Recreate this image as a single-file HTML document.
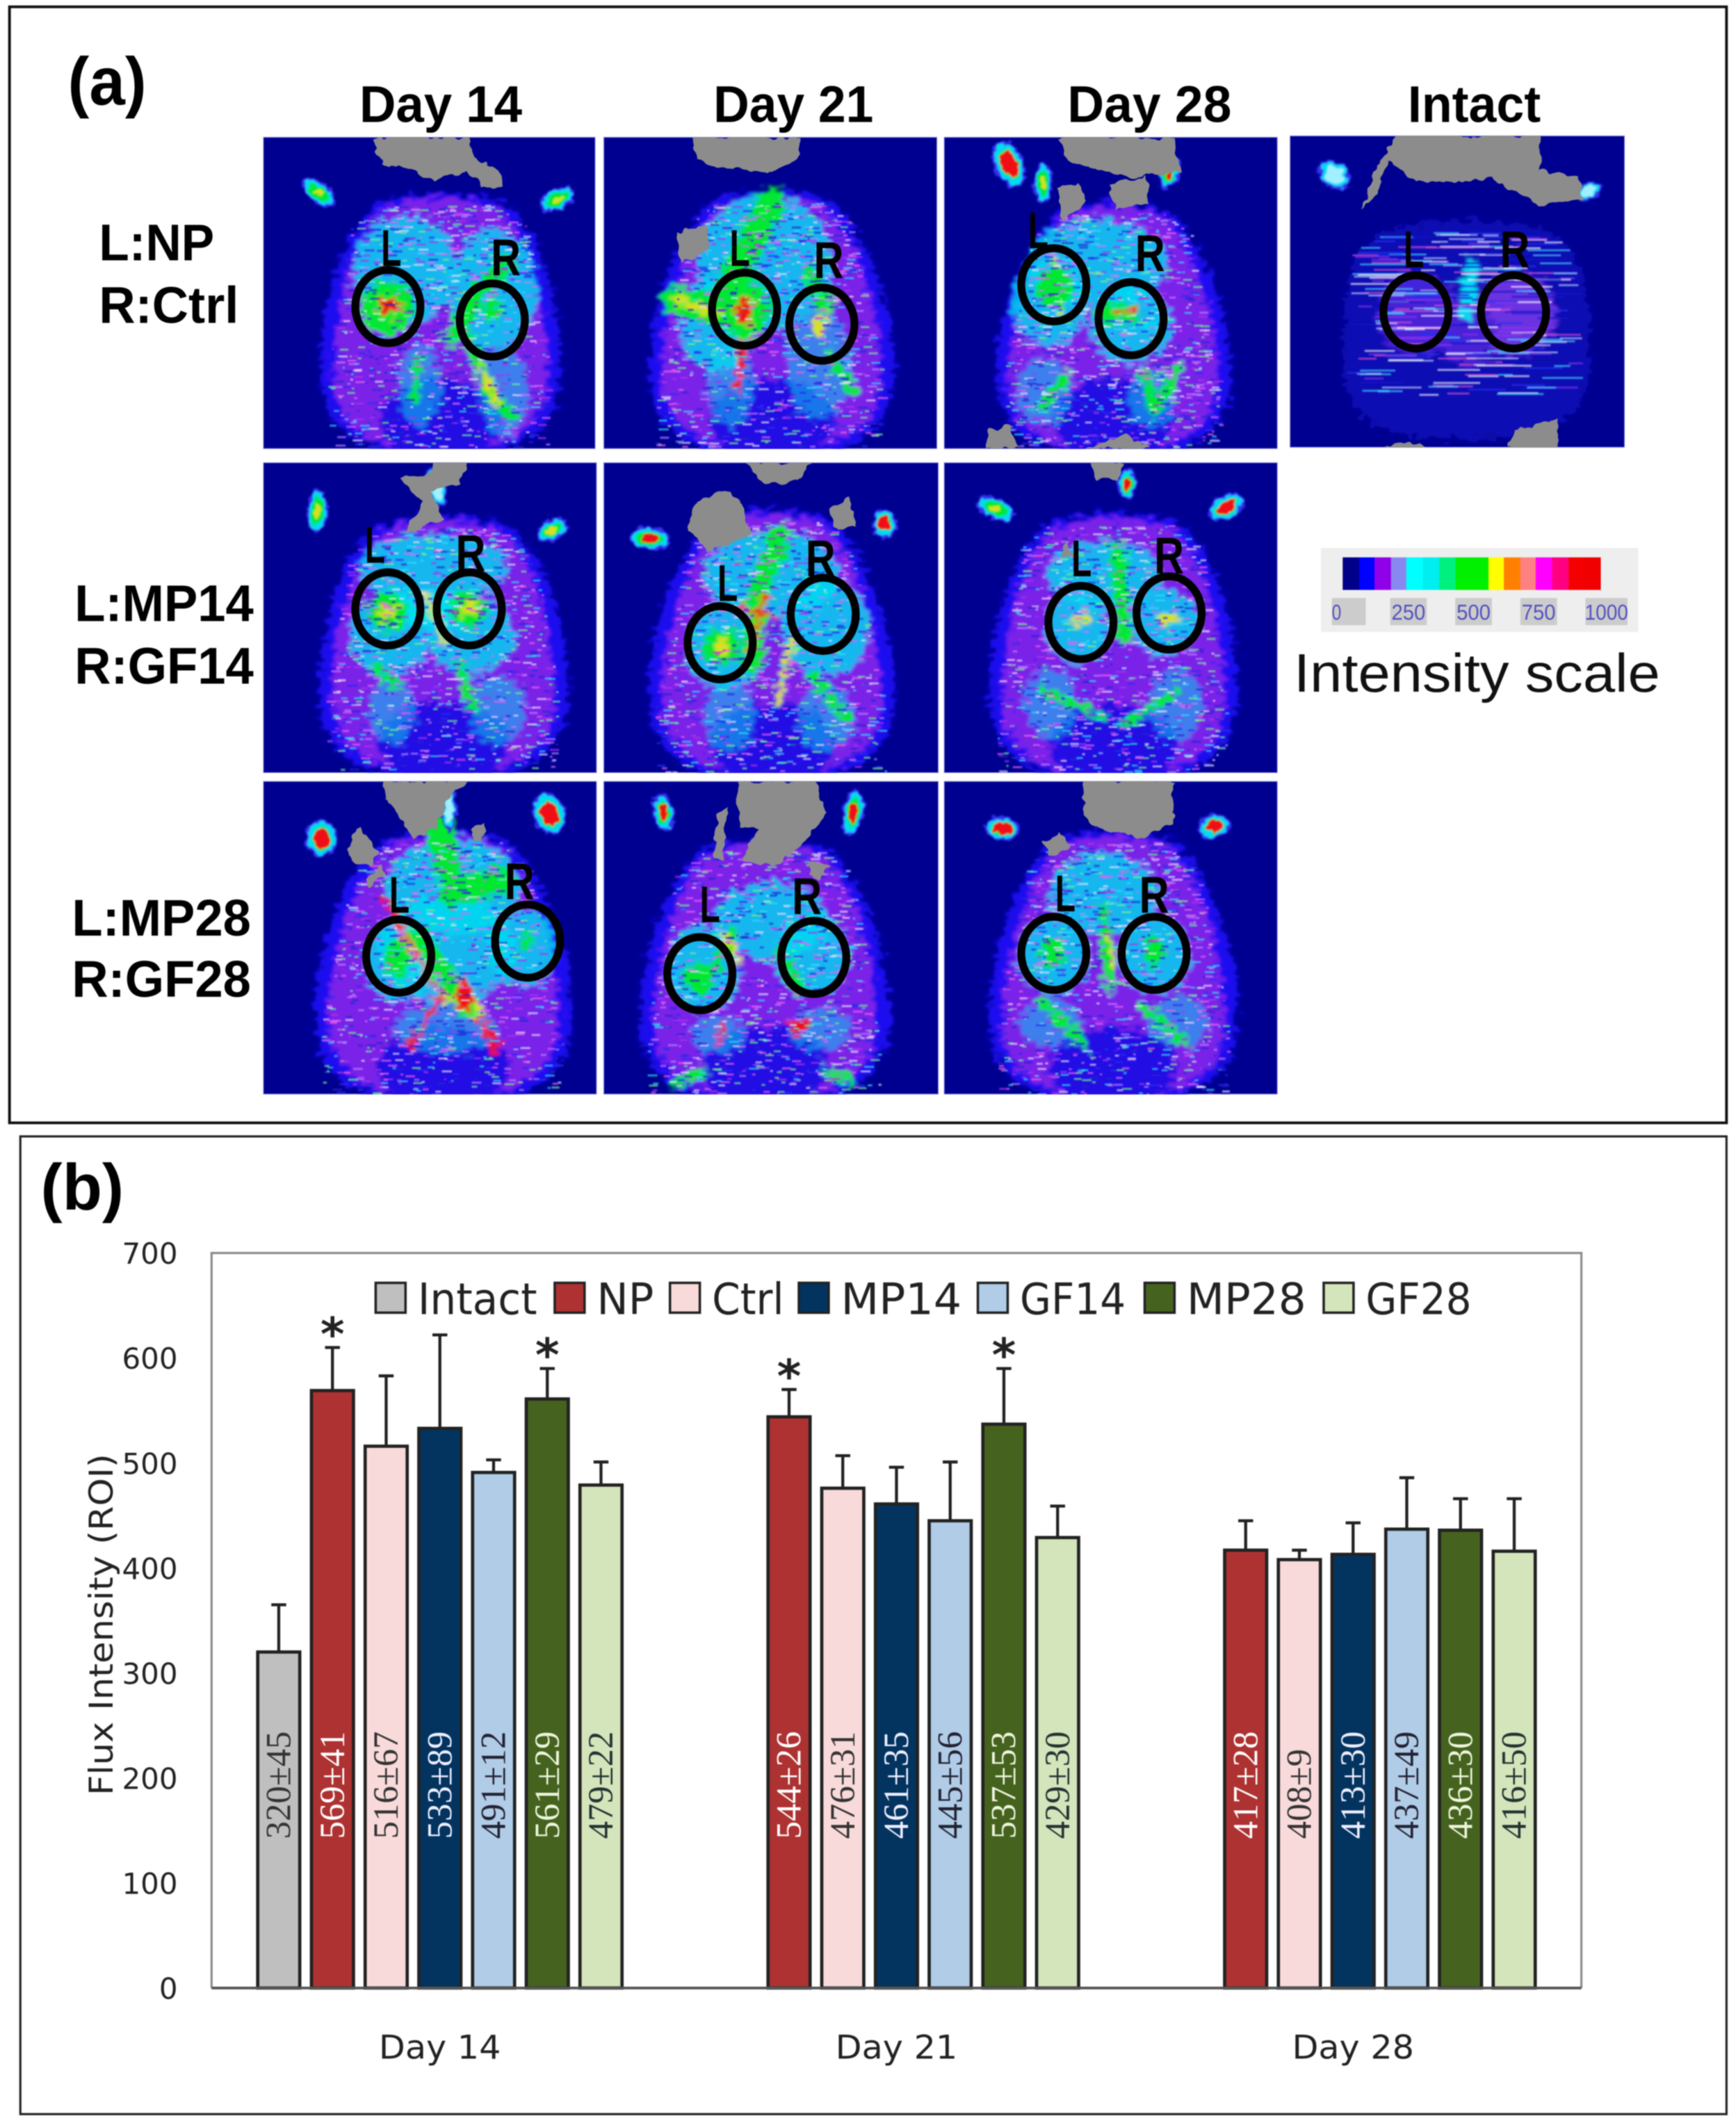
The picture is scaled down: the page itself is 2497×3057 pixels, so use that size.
<!DOCTYPE html>
<html lang="en">
<head>
<meta charset="utf-8">
<title>Flux intensity figure</title>
<style>
html,body{margin:0;padding:0;background:#fff;width:2497px;height:3057px;overflow:hidden}
svg{display:block;filter:blur(0.7px)}
.b{font-family:"Liberation Sans",sans-serif;font-weight:bold;fill:#000}
.d{font-family:"DejaVu Sans","Liberation Sans",sans-serif;fill:#333}
.s{font-family:"Liberation Serif",serif}
</style>
</head>
<body>
<svg id="fig" xmlns="http://www.w3.org/2000/svg" width="2497" height="3057" viewBox="1 1 1280 1567">
<defs>
<filter id="rough" x="-10%" y="-10%" width="120%" height="120%">
<feTurbulence type="fractalNoise" baseFrequency="0.13 0.3" numOctaves="3" seed="4" result="n"/>
<feDisplacementMap in="SourceGraphic" in2="n" scale="17" xChannelSelector="R" yChannelSelector="G" result="d"/>
<feGaussianBlur in="d" stdDeviation="1.2"/>
</filter>
<filter id="rough2" x="-30%" y="-30%" width="160%" height="160%">
<feTurbulence type="fractalNoise" baseFrequency="0.2" numOctaves="2" seed="7" result="n"/>
<feDisplacementMap in="SourceGraphic" in2="n" scale="6" xChannelSelector="R" yChannelSelector="G" result="d"/>
<feGaussianBlur in="d" stdDeviation="0.7"/>
</filter>
<filter id="soft"><feGaussianBlur stdDeviation="0.4"/></filter>
<filter id="edge" x="-5%" y="-5%" width="110%" height="110%">
<feTurbulence type="fractalNoise" baseFrequency="0.12" numOctaves="2" seed="9" result="n"/>
<feDisplacementMap in="SourceGraphic" in2="n" scale="7" xChannelSelector="R" yChannelSelector="G"/>
</filter>
</defs>

<rect x="8" y="6" width="1266" height="823" fill="#fff" stroke="#111" stroke-width="2"/>
<rect x="16" y="839" width="1258" height="721" fill="#fff" stroke="#222" stroke-width="1.6"/>

<text class="b" x="51" y="78" font-size="50" textLength="58" lengthAdjust="spacingAndGlyphs">(a)</text>
<text class="b" x="266" y="91" font-size="38" textLength="120" lengthAdjust="spacingAndGlyphs">Day 14</text>
<text class="b" x="527" y="91" font-size="38" textLength="118" lengthAdjust="spacingAndGlyphs">Day 21</text>
<text class="b" x="788" y="91" font-size="38" textLength="121" lengthAdjust="spacingAndGlyphs">Day 28</text>
<text class="b" x="1039" y="91" font-size="38" textLength="98" lengthAdjust="spacingAndGlyphs">Intact</text>

<text class="b" x="74" y="193" font-size="38" textLength="85" lengthAdjust="spacingAndGlyphs">L:NP</text>
<text class="b" x="74" y="239" font-size="38" textLength="103" lengthAdjust="spacingAndGlyphs">R:Ctrl</text>
<text class="b" x="56" y="459" font-size="38" textLength="132" lengthAdjust="spacingAndGlyphs">L:MP14</text>
<text class="b" x="56" y="505" font-size="38" textLength="132" lengthAdjust="spacingAndGlyphs">R:GF14</text>
<text class="b" x="54" y="691" font-size="38" textLength="132" lengthAdjust="spacingAndGlyphs">L:MP28</text>
<text class="b" x="54" y="736" font-size="38" textLength="132" lengthAdjust="spacingAndGlyphs">R:GF28</text>

<g id="panels"></g>

<g id="scale">
<rect x="975" y="405" width="234" height="62" fill="#eeeeee"/>
<text x="955" y="511" font-size="40" textLength="270" lengthAdjust="spacingAndGlyphs" font-family="Liberation Sans, sans-serif" fill="#111">Intensity scale</text>
</g>

<text class="b" x="31" y="893" font-size="48">(b)</text>
<g id="chart"></g>
</svg>

<script>
/* ---------- bar chart data ---------- */
const categories = ['Day 14', 'Day 21', 'Day 28'];
const seriesNames = ['Intact', 'NP', 'Ctrl', 'MP14', 'GF14', 'MP28', 'GF28'];
const intactValues = [320, null, null];
const npValues = [569, 544, 417];
const ctrlValues = [516, 476, 408];
const mp14Values = [533, 461, 413];
const gf14Values = [491, 445, 437];
const mp28Values = [561, 537, 436];
const gf28Values = [479, 429, 416];
const intactErrors = [45, null, null];
const npErrors = [41, 26, 28];
const ctrlErrors = [67, 31, 9];
const mp14Errors = [89, 35, 30];
const gf14Errors = [12, 56, 49];
const mp28Errors = [29, 53, 30];
const gf28Errors = [22, 30, 50];
const npSignificant = [true, true, false];
const mp28Significant = [true, true, false];
const yTickLabels = [0, 100, 200, 300, 400, 500, 600, 700];
const yAxisMax = 700;

const NS = 'http://www.w3.org/2000/svg';
function el(tag, attrs, parent, text) {
  const n = document.createElementNS(NS, tag);
  for (const k in attrs) n.setAttribute(k, attrs[k]);
  if (text !== undefined) n.textContent = text;
  if (parent) parent.appendChild(n);
  return n;
}

/* ---------- chart ---------- */
(function () {
  const g = document.getElementById('chart');
  const allValues = [intactValues, npValues, ctrlValues, mp14Values, gf14Values, mp28Values, gf28Values];
  const allErrors = [intactErrors, npErrors, ctrlErrors, mp14Errors, gf14Errors, mp28Errors, gf28Errors];
  const allSig = [null, npSignificant, null, null, null, mp28Significant, null];
  const fills = ['#bfbfbf', '#ae3232', '#f9dada', '#03345f', '#b0cce6', '#45631f', '#d4e4bb'];
  const inks = ['#333', '#fff', '#333', '#eef', '#223', '#eef5dd', '#233'];
  const left = 157, right = 1167, top = 925, bottom = 1467;
  const y = v => bottom - (v / yAxisMax) * (bottom - top);
  const catW = (right - left) / categories.length;
  const slot = 39.6, barW = 31;
  const x = (c, s) => left + catW * (c + .5) + (s - 3) * slot;

  const frame = el('path', {d: `M${left} ${bottom}V${top}H${right}V${bottom}`, fill: 'none', stroke: '#8a8a8a', 'stroke-width': 1.6}, g);
  
  

  yTickLabels.forEach(t => {
    const lab = el('text', {class: 'd', x: 132, y: y(t) + 8, 'font-size': 21.5, 'text-anchor': 'end', style: 'fill:#222'}, g, t);
    
    
  });

  const yt = el('text', {class: 'd', transform: 'translate(84 1199) rotate(-90)', 'font-size': 24, 'text-anchor': 'middle', textLength: 252, lengthAdjust: 'spacingAndGlyphs', style: 'fill:#222'}, g, 'Flux Intensity (ROI)');
  
  

  categories.forEach((cat, c) => {
    const lab = el('text', {class: 'd', x: left + catW * (c + .5), y: 1519, 'font-size': 24, 'text-anchor': 'middle', textLength: 90, lengthAdjust: 'spacingAndGlyphs', style: 'fill:#222'}, g, cat);
    
    
    seriesNames.forEach((name, s) => {
      const v = allValues[s][c], e = allErrors[s][c];
      if (v === null) return;
      const cx = x(c, s);
      const err = el('path', {d: `M${cx} ${y(v)}V${y(v + e)}M${cx - 5.5} ${y(v + e)}H${cx + 5.5}`, fill: 'none', stroke: '#222', 'stroke-width': 2.2}, g);
      
      
      const bar = el('rect', {x: cx - barW / 2, y: y(v), width: barW, height: bottom - y(v), fill: fills[s], stroke: '#222', 'stroke-width': 2.4}, g);
      
      
      const lb = el('text', {class: 's', transform: `translate(${cx + 8.5} 1357) rotate(-90)`, 'font-size': 26, fill: inks[s]}, g, v + '±' + e);
      
      
      if (allSig[s] && allSig[s][c]) {
        const st = el('text', {class: 'd', x: cx, y: y(v + e) + 2, 'font-size': 34, 'font-weight': 'bold', 'text-anchor': 'middle', style: 'fill:#222'}, g, '*');
        
        
      }
    });
  });

  const axis = el('line', {x1: left, x2: right, y1: bottom, y2: bottom, stroke: '#555', 'stroke-width': 2}, g);
  
  

  const legendSwatchX = [278, 410, 495, 590, 722, 845, 977];
  const legendTextW = [88, 42, 53, 89, 78, 88, 78];
  seriesNames.forEach((name, s) => {
    const sw = el('rect', {x: legendSwatchX[s], y: 947, width: 22, height: 22, fill: fills[s], stroke: '#222', 'stroke-width': 1.8}, g);
    
    
    const t = el('text', {class: 'd', x: legendSwatchX[s] + 31, y: 970, 'font-size': 32, textLength: legendTextW[s], lengthAdjust: 'spacingAndGlyphs', style: 'fill:#222'}, g, name);
    
    
  });
})();

/* ---------- intensity scale ---------- */
const scaleColors = ['#000088', '#0000ff', '#9000e8', '#8888f0', '#00ffff', '#00eef0', '#00f080', '#00f000', '#00f000', '#ffff00', '#ff8000', '#ff8080', '#ff00ff', '#ff0080', '#f40000', '#f00000'];
const scaleWidths = [30, 28, 30, 28, 30, 30, 30, 30, 30, 28, 30, 28, 30, 30, 30, 28];
const scaleTicks = ['0', '250', '500', '750', '1000'];
(function () {
  const g = document.getElementById('scale');
  const total = scaleWidths.reduce((a, b) => a + b, 0);
  let cx = 991;
  scaleColors.forEach((c, i) => {
    const w = scaleWidths[i] / total * 190;
    const seg = el('rect', {x: cx, y: 412, width: w + .3, height: 24, fill: c}, g);
    
    
    cx += w;
  });
  const tickX = [983, 1026, 1074, 1122, 1170];
  const tickW = [25, 27, 27, 27, 31];
  scaleTicks.forEach((t, i) => {
    const r = el('rect', {x: tickX[i], y: 442, width: tickW[i], height: 20, fill: '#cccccc'}, g);
    
    
    const lb = el('text', {x: i === 0 ? tickX[i] : tickX[i] + tickW[i] / 2, y: 458, 'font-size': 16, fill: '#5252c0', 'font-family': 'Liberation Sans, sans-serif', 'text-anchor': i === 0 ? 'start' : 'middle', textLength: [7, 25, 25, 25, 32][i], lengthAdjust: 'spacingAndGlyphs'}, g, t);
    
    
  });
})();

/* ---------- thermal images (illustrative raster stand-ins) ---------- */
const G = '#00e832', C = '#00dcf0', R = '#f01018', Y = '#d8e020', P = '#d040f0';
const imagePanels = [
 {id: 'np-ctrl-day-14', x: 195, y: 102, w: 245, h: 230, body: [326, 152, 330, 63, 82],
  grey: ['M275 102L345 102L352 118L368 126L372 140L360 140L345 128L320 134L305 126L282 122Z'],
  ears: [[236, 143, 12, 6, .3, 40], [412, 148, 12, 6, .4, -25]],
  cyan: [[300, 200, 38, 40], [365, 215, 32, 45], [310, 285, 20, 30], [372, 290, 22, 32]],
  stk: [[[335, 250, 355, 215, 375, 195], G, 12], [[347, 250, 362, 290, 378, 308], G, 9], [[355, 272, 368, 298], Y, 5], [[310, 265, 306, 295], G, 7]],
  spot: [[287, 228, 20, 20, G], [287, 227, 9, 7, R], [364, 230, 7, 9, G]],
  cir: [[287, 227], [364, 237]], L: [289, 183], R: [374, 190]},
 {id: 'np-ctrl-day-21', x: 446, y: 102, w: 246, h: 230, body: [570, 150, 330, 58, 84],
  grey: ['M510 102L590 102L590 118L570 128L530 124L515 118Z', 'M500 172L522 168L524 186L504 194Z'],
  ears: [],
  cyan: [[565, 195, 50, 50], [530, 240, 28, 35], [605, 270, 30, 40], [540, 285, 22, 30]],
  stk: [[[570, 150, 550, 190, 530, 232, 500, 222], G, 22], [[600, 205, 610, 225], G, 14], [[554, 215, 550, 250, 544, 288], R, 6], [[500, 222, 530, 232], Y, 6], [[612, 262, 630, 290], G, 8]],
  spot: [[550, 228, 20, 22, G], [550, 230, 6, 10, R], [606, 240, 6, 8, Y]],
  cir: [[550, 229], [607, 240]], L: [546, 183], R: [612, 192]},
 {id: 'np-ctrl-day-28', x: 697, y: 102, w: 246, h: 230, body: [822, 158, 330, 55, 80],
  grey: ['M782 102L868 102L870 128L838 132L815 128L790 120Z', 'M818 136L846 132L848 152L824 156Z', 'M780 140L796 136L802 150L784 164Z', 'M728 332L730 318L745 314L752 332Z', 'M800 332L830 322L850 332Z'],
  ears: [[745, 122, 9, 16, 1, -25], [770, 136, 5, 13, .3, 0], [864, 128, 5, 11, .7, 20]],
  cyan: [[810, 195, 52, 32], [775, 225, 28, 30], [835, 240, 30, 28], [770, 290, 25, 25], [850, 295, 22, 22]],
  stk: [[[778, 192, 782, 232], Y, 5], [[788, 278, 768, 302], G, 7], [[845, 275, 852, 305, 870, 272], G, 8], [[815, 232, 835, 232], G, 14], [[826, 232, 842, 228], R, 4]],
  spot: [[779, 212, 14, 16, G], [850, 240, 8, 5, C]],
  cir: [[778, 211], [835, 236]], L: [766, 170], R: [849, 187]},
 {id: 'intact', x: 952, y: 101, w: 247, h: 230, body: [1082, 172, 318, 80, 84], sparse: true,
  grey: ['M1030 101L1138 101L1136 126L1165 132L1168 148L1135 152L1100 132L1085 135L1045 135L1025 120L1018 140L1005 156L1012 132Z', 'M1112 332L1118 318L1150 310L1150 332Z', 'M1010 332L1040 326L1060 332Z'],
  ears: [[985, 130, 11, 8, 0, 35], [1172, 142, 8, 5, 0, -20]],
  cyan: [],
  stk: [[[1086, 195, 1082, 235], C, 9]],
  spot: [],
  cir: [[1045, 231], [1117, 231]], L: [1043, 184], R: [1118, 184]},

 {id: 'mp14-gf14-day-14', x: 195, y: 342, w: 246, h: 229, body: [328, 390, 568, 65, 85],
  grey: ['M300 395L312 372L296 354L318 350L320 342L345 342L340 358L320 362L328 385Z'],
  ears: [[235, 378, 6, 14, .5, 5], [408, 392, 10, 6, .6, -30], [322, 360, 5, 14, 0, -20]],
  cyan: [[320, 420, 55, 25], [288, 470, 30, 28], [348, 470, 32, 28], [290, 525, 22, 25], [368, 525, 25, 25]],
  stk: [[[287, 450, 347, 450], C, 26], [[315, 440, 330, 475], Y, 4], [[340, 490, 350, 525], G, 7], [[280, 495, 295, 510], G, 7]],
  spot: [[287, 452, 14, 14, G], [347, 450, 14, 13, G], [287, 452, 6, 6, Y], [347, 450, 7, 5, Y]],
  cir: [[287, 450], [347, 450]], L: [277, 402], R: [348, 408]},
 {id: 'mp14-gf14-day-21', x: 446, y: 342, w: 247, h: 229, body: [570, 385, 570, 58, 84],
  grey: ['M515 372L535 362L548 372L555 395L525 408L508 392Z', 'M550 342L600 342L590 356L565 358Z', 'M612 375L628 368L632 388L618 392Z'],
  ears: [[480, 398, 13, 7, .7, 5], [653, 387, 7, 9, 1, -20]],
  cyan: [[570, 425, 50, 32], [535, 480, 28, 30], [610, 465, 32, 35], [540, 530, 24, 25], [610, 530, 26, 25]],
  stk: [[[575, 395, 560, 440, 555, 490], G, 16], [[565, 440, 555, 480], R, 4], [[545, 450, 575, 455], R, 3], [[585, 470, 575, 520], Y, 4], [[600, 500, 625, 530], G, 7]],
  spot: [[575, 405, 7, 12, G], [533, 478, 14, 14, G], [533, 478, 6, 6, Y]],
  cir: [[532, 475], [608, 454]], L: [537, 430], R: [606, 412]},
 {id: 'mp14-gf14-day-28', x: 697, y: 342, w: 246, h: 229, body: [822, 388, 570, 65, 85],
  grey: ['M805 342L830 342L825 354L810 356Z', 'M783 412L788 400L792 412Z'],
  ears: [[735, 376, 13, 6, .3, 25], [905, 375, 12, 7, 1, -30], [832, 358, 5, 10, .7, 0]],
  cyan: [[815, 425, 42, 25], [860, 460, 25, 24], [795, 465, 24, 24], [775, 520, 24, 26], [868, 520, 24, 26]],
  stk: [[[825, 405, 830, 470], G, 11], [[770, 510, 815, 530], G, 6], [[870, 510, 830, 535], G, 6]],
  spot: [[798, 458, 8, 4, Y], [862, 458, 8, 4, Y]],
  cir: [[798, 460], [863, 453]], L: [798, 412], R: [863, 410]},

 {id: 'mp28-gf28-day-14', x: 195, y: 577, w: 246, h: 231, body: [328, 622, 808, 62, 88],
  grey: ['M284 577L345 577L330 592L322 612L305 620L292 595L284 590Z', 'M258 622L266 612L280 628L275 640L260 636Z', 'M270 650L282 638L284 645L272 656Z', 'M348 612L358 608L358 622L350 622Z'],
  ears: [[238, 619, 10, 12, 1, 0], [406, 601, 10, 14, 1, -20], [332, 598, 4, 14, .2, 0]],
  cyan: [[335, 655, 50, 35], [330, 700, 50, 40], [295, 710, 24, 30], [385, 700, 26, 28], [330, 760, 48, 18]],
  stk: [[[325, 610, 335, 660, 370, 650], G, 20], [[285, 665, 322, 730], R, 4], [[335, 720, 305, 770], R, 4], [[335, 720, 365, 770], R, 5], [[335, 735, 350, 745], Y, 14], [[310, 690, 345, 745], G, 14]],
  spot: [[390, 695, 5, 6, G], [295, 707, 10, 14, G], [343, 735, 6, 12, R], [304, 773, 4, 5, R], [366, 772, 4, 6, R]],
  cir: [[295, 706], [390, 695]], L: [295, 660], R: [384, 650]},
 {id: 'mp28-gf28-day-21', x: 446, y: 577, w: 247, h: 231, body: [565, 628, 808, 62, 85],
  grey: ['M545 577L602 577L610 600L595 622L570 640L548 635L560 612L545 610Z', 'M530 600L538 598L534 635L526 636Z', 'M598 635L612 640L606 650L598 648Z'],
  ears: [[490, 600, 6, 12, .8, -10], [630, 600, 6, 15, .7, 10]],
  cyan: [[570, 680, 42, 28], [520, 715, 26, 32], [600, 705, 28, 30], [530, 765, 24, 14], [605, 760, 28, 16]],
  stk: [[[540, 690, 520, 730], G, 9], [[575, 700, 590, 730], G, 9], [[535, 690, 545, 710], Y, 5], [[595, 755, 590, 760], R, 7], [[535, 755, 530, 770], R, 4], [[520, 790, 500, 800], G, 6], [[610, 790, 630, 800], G, 6]],
  spot: [[587, 757, 9, 3, R], [516, 722, 12, 12, G]],
  cir: [[517, 719], [601, 707]], L: [524, 667], R: [596, 661]},
 {id: 'mp28-gf28-day-28', x: 697, y: 577, w: 246, h: 231, body: [822, 622, 808, 60, 85],
  grey: ['M800 577L866 577L866 610L840 618L810 612L800 600Z', 'M770 622L782 615L790 625L775 632Z'],
  ears: [[740, 612, 11, 7, 1, 10], [896, 610, 10, 7, 1, -15]],
  cyan: [[815, 660, 40, 30], [778, 706, 26, 28], [852, 706, 26, 28], [775, 755, 28, 18], [870, 755, 28, 18]],
  stk: [[[815, 672, 820, 730], G, 8], [[770, 740, 800, 770], G, 8], [[845, 745, 875, 770], G, 8], [[818, 695, 822, 712], Y, 4]],
  spot: [[778, 704, 9, 12, G], [852, 702, 8, 12, G]],
  cir: [[778, 704], [852, 704]], L: [786, 659], R: [852, 660]}
];

(function () {
  const root = document.getElementById('panels');
  let seed = 12345;
  const rnd = () => (seed = (seed * 1664525 + 1013904223) % 4294967296) / 4294967296;
  const bodyPath = (b, k, dy) => {
    const [cx, t0, bot, wt0, wb0] = b;
    const t = t0 - dy, h = bot - t0, wt = wt0 * k, wb = wb0 * k, bb = bot + dy;
    return `M${cx - wt * .72} ${t + 4}C${cx - wt * .3} ${t - 8} ${cx + wt * .3} ${t - 8} ${cx + wt * .72} ${t + 4}` +
      `C${cx + wt * 1.1} ${t + h * .16} ${cx + wb * .98} ${t + h * .42} ${cx + wb} ${t + h * .68}` +
      `C${cx + wb * 1.02} ${bb - h * .1} ${cx + wb * .72} ${bb + 4} ${cx} ${bb + 3}` +
      `C${cx - wb * .72} ${bb + 4} ${cx - wb * 1.02} ${bb - h * .1} ${cx - wb} ${t + h * .68}` +
      `C${cx - wb * .98} ${t + h * .42} ${cx - wt * 1.1} ${t + h * .16} ${cx - wt * .72} ${t + 4}Z`;
  };
  const halfW = (b, yy) => {
    const f = Math.max(0, Math.min(1, (yy - b[1]) / (b[2] - b[1])));
    const s = Math.min(1, .72 + f * 3);
    return (b[3] + (b[4] - b[3]) * Math.min(1, f * 1.4)) * s;
  };
  imagePanels.forEach((p, idx) => {
    const clipId = 'clip' + idx;
    const cp = el('clipPath', {id: clipId}, root);
    el('rect', {x: p.x, y: p.y, width: p.w, height: p.h}, cp);
    const g = el('g', {'clip-path': `url(#${clipId})`}, root);
    
    
    const bg = el('rect', {x: p.x, y: p.y, width: p.w, height: p.h, fill: '#000090', stroke: '#8888e0', 'stroke-width': 1}, g);
    
    

    const heat = el('g', {filter: 'url(#rough)'}, g);
    
    
    el('path', {d: bodyPath(p.body, 1.08, 4), fill: p.sparse ? '#1010b4' : '#1a10f0'}, heat);
    if (!p.sparse) {
      el('path', {d: bodyPath(p.body, .96, 0), fill: '#7a22e8'}, heat);
      el('ellipse', {cx: p.body[0], cy: p.body[2] - 20, rx: p.body[4] * .55, ry: 30, fill: '#2410e4'}, heat);
    } else {
      el('ellipse', {cx: p.body[0] - 36, cy: 232, rx: 30, ry: 30, fill: '#4a20d8'}, heat);
      el('ellipse', {cx: p.body[0] + 36, cy: 232, rx: 30, ry: 30, fill: '#6a30e0'}, heat);
      el('ellipse', {cx: p.body[0], cy: 245, rx: 20, ry: 25, fill: '#4a20d8'}, heat);
    }
    const lowerLimit = p.body[1] + (p.body[2] - p.body[1]) * .62;
    p.cyan.forEach(c => {
      const lower = c[1] > lowerLimit;
      el('ellipse', {cx: c[0], cy: c[1], rx: lower ? c[2] * .8 : c[2], ry: c[3], fill: C, opacity: lower ? .5 : .8}, heat);
    });
    p.stk.forEach(s => {
      const pts = s[0];
      let d = 'M' + pts[0] + ' ' + pts[1];
      for (let i = 2; i < pts.length; i += 2) d += 'L' + pts[i] + ' ' + pts[i + 1];
      el('path', {d: d, fill: 'none', stroke: s[1], 'stroke-width': s[2], 'stroke-linecap': 'round', 'stroke-linejoin': 'round'}, heat);
    });
    p.spot.forEach(s => el('ellipse', {cx: s[0], cy: s[1], rx: s[2], ry: s[3], fill: s[4]}, heat));

    // horizontal scan-line speckle
    const tex = el('g', {filter: 'url(#soft)'}, g);
    
    
    const cols = p.sparse ? ['#c8d8ff', '#40e0ff', '#e050d0', '#2030f0', '#1818c8', '#ffffff', '#9030f0'] : ['#e8e0ff', '#c080ff', '#30d8f8', '#f060f0', '#2828f0', '#70f090', '#b030f0', '#2020d0'];
    const count = p.sparse ? 230 : 1000;
    for (let i = 0; i < count; i++) {
      const yy = p.body[1] + rnd() * (p.body[2] - p.body[1]) * (p.sparse ? .82 : 1);
      const hw = halfW(p.body, yy) * (p.sparse ? 1.05 : 1.02);
      const len = p.sparse ? 8 + rnd() * 34 : 1.5 + rnd() * 6;
      const xx = p.body[0] - hw + rnd() * Math.max(1, 2 * hw - len);
      el('rect', {x: xx.toFixed(1), y: yy.toFixed(1), width: len.toFixed(1), height: 1.5, fill: cols[Math.floor(rnd() * cols.length)], opacity: p.sparse ? .6 : .68}, tex);
    }

    p.ears.forEach(e => {
      const [cx, cy, rx, ry, h, rot] = e;
      const ear = el('g', {transform: `rotate(${rot} ${cx} ${cy})`, filter: 'url(#rough2)'}, g);
      
      
      el('ellipse', {cx: cx, cy: cy, rx: rx + 2, ry: ry + 2, fill: '#3030f0'}, ear);
      el('ellipse', {cx: cx, cy: cy, rx: rx, ry: ry, fill: C}, ear);
      el('ellipse', {cx: cx, cy: cy, rx: rx * .72, ry: ry * .72, fill: h >= .3 ? G : '#a0f0ff'}, ear);
      if (h >= .3) el('ellipse', {cx: cx, cy: cy, rx: rx * (.15 + h * .5), ry: ry * (.15 + h * .5), fill: h >= .7 ? R : Y}, ear);
    });
    const gr = el('g', {filter: 'url(#edge)'}, g);
    
    
    p.grey.forEach(d => el('path', {d: d, fill: '#8c8c8c'}, gr));

    p.cir.forEach((c, i) => {
      const ring = el('ellipse', {cx: c[0], cy: c[1], rx: 24, ry: 27, fill: 'none', stroke: '#000', 'stroke-width': 5.8}, g);
      
      
    });
    const ll = el('text', {class: 'b', x: p.L[0] - 7, y: p.L[1] + 14, 'font-size': 38, textLength: 15, lengthAdjust: 'spacingAndGlyphs'}, g, 'L');
    
    
    const rr = el('text', {class: 'b', x: p.R[0] - 11, y: p.R[1] + 14, 'font-size': 38, textLength: 22, lengthAdjust: 'spacingAndGlyphs'}, g, 'R');
    
    
  });
})();
</script>
</body>
</html>
